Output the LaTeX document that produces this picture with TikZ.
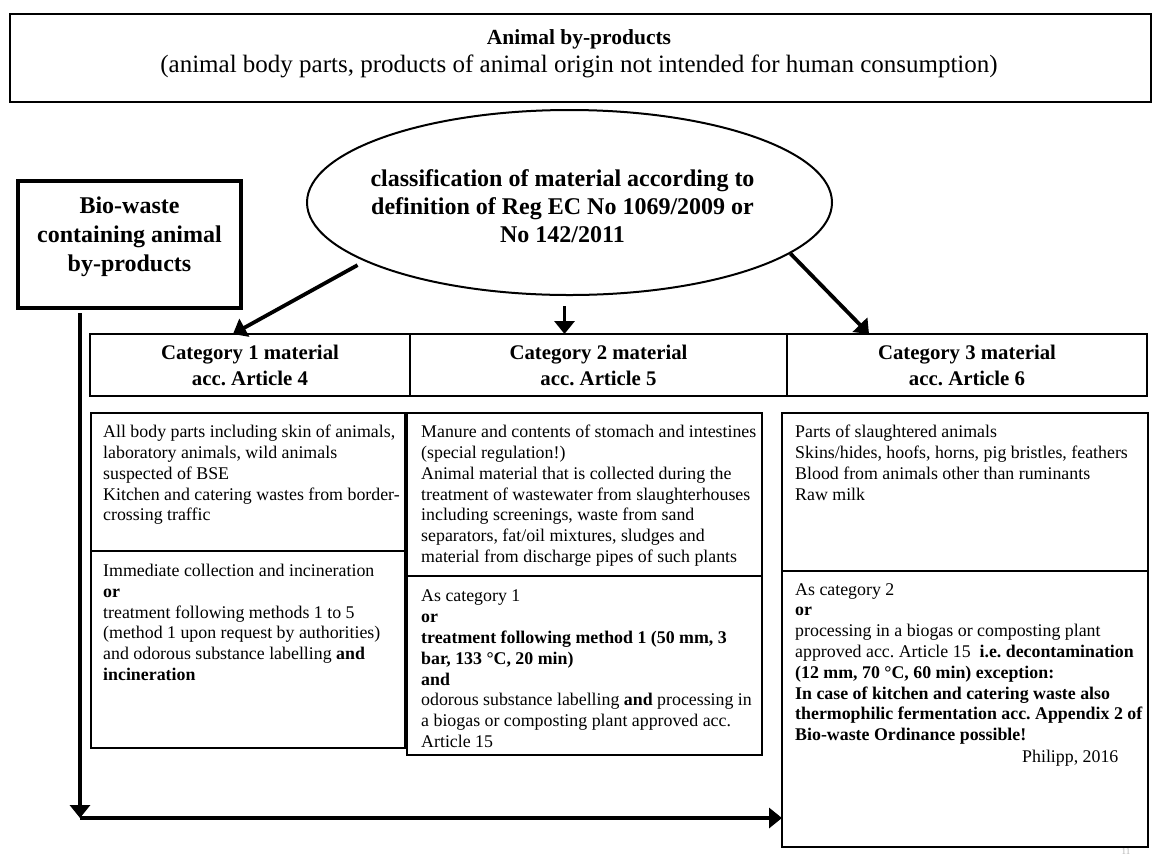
\documentclass[tikz,border=0pt]{standalone}
\usepackage{fontspec}
\setmainfont{Liberation Serif}
\usetikzlibrary{positioning,arrows.meta,shapes.geometric}
\frenchspacing

\begin{document}
\begin{tikzpicture}[
  x=1pt, y=-1pt,
  cell/.style={draw,line width=1.5pt,inner sep=0pt,outer sep=0pt,anchor=north west},
  head/.style={cell,align=center,minimum height=62pt,font=\fontsize{20.8}{26}\selectfont\bfseries},
  txt/.style={inner sep=0pt,align=left,font=\fontsize{17.85}{20.8}\selectfont},
  big/.style={inner sep=0pt,align=center,font=\fontsize{24}{29}\selectfont\bfseries},
  arr/.style={-{Triangle[length=13pt,width=20pt]},line width=3.8pt}
]
\useasboundingbox (0,0) rectangle (1158,855);

% title box
\node[cell,minimum width=1141pt,minimum height=88pt] (top) at (10,14) {};
\node[inner sep=0pt,font=\fontsize{21.5}{26}\selectfont\bfseries] (ttl) at (579,39) {Animal by-products};
\node[inner sep=0pt,font=\fontsize{25}{26}\selectfont,below=6pt of ttl] (sub) {(animal body parts, products of animal origin not intended for human consumption)};

% classification
\node[draw,ellipse,line width=2pt,inner sep=0pt,minimum width=525pt,minimum height=185pt] (cls) at (569.5,202.5) {};
\node[big,font=\fontsize{24}{28}\selectfont\bfseries] (clst) at ([xshift=-7pt,yshift=-4pt]cls.center) {classification of material according to\\definition of Reg EC No 1069/2009 or\\No 142/2011};

\node[draw,line width=4.5pt,inner sep=0pt,outer sep=0pt,minimum width=223pt,minimum height=127pt,anchor=north west] (bio) at (18,181) {};
\node[big] (biot) at ([yshift=7.5pt]bio.center) {Bio-waste\\containing animal\\by-products};

% categories
\node[head,minimum width=320pt] (h1) at (90,334) {Category 1 material\\acc. Article 4};
\node[head,minimum width=377pt,right=0pt of h1] (h2) {Category 2 material\\acc. Article 5};
\node[head,minimum width=360pt,right=0pt of h2] (h3) {Category 3 material\\acc. Article 6};

\node[cell,minimum width=314pt,minimum height=138pt] (c1a) at (91,413) {};
\node[cell,minimum width=314pt,minimum height=197pt,below=0pt of c1a] (c1b) {};
\node[cell,minimum width=355pt,minimum height=163pt] (c2a) at (407,413) {};
\node[cell,minimum width=355pt,minimum height=179pt,below=0pt of c2a] (c2b) {};
\node[cell,minimum width=366pt,minimum height=158pt] (c3a) at (782,413) {};
\node[cell,minimum width=366pt,minimum height=276pt,below=0pt of c3a] (c3b) {};

\node[txt,below right=12pt and 12pt of c1a.north west] (t1a) {All body parts including skin of animals,\\
laboratory animals, wild animals\\
suspected of BSE\\
Kitchen and catering wastes from border-\\
crossing traffic};
\node[txt,below right=13pt and 12pt of c1b.north west] (t1b) {Immediate collection and incineration\\
\textbf{or}\\
treatment following methods 1 to 5\\
(method 1 upon request by authorities)\\
and odorous substance labelling \textbf{and}\\
\textbf{incineration}};

\node[txt,below right=12pt and 14pt of c2a.north west] (t2a) {Manure and contents of stomach and intestines\\
(special regulation!)\\
Animal material that is collected during the\\
treatment of wastewater from slaughterhouses\\
including screenings, waste from sand\\
separators, fat/oil mixtures, sludges and\\
material from discharge pipes of such plants};
\node[txt,below right=14pt and 14pt of c2b.north west] (t2b) {As category 1\\
\textbf{or}\\
\textbf{treatment following method 1 (50 mm, 3}\\
\textbf{bar, 133 °C, 20 min)}\\
\textbf{and}\\
odorous substance labelling \textbf{and} processing in\\
a biogas or composting plant approved acc.\\
Article 15};

\node[txt,below right=12pt and 13pt of c3a.north west] (t3a) {Parts of slaughtered animals\\
Skins/hides, hoofs, horns, pig bristles, feathers\\
Blood from animals other than ruminants\\
Raw milk};
\node[txt,below right=12pt and 13pt of c3b.north west] (t3b) {As category 2\\
\textbf{or}\\
processing in a biogas or composting plant\\
approved acc. Article 15~ \textbf{i.e. decontamination}\\
\textbf{(12 mm, 70 °C, 60 min) exception:}\\
\textbf{In case of kitchen and catering waste also}\\
\textbf{thermophilic fermentation acc. Appendix 2 of}\\
\textbf{Bio-waste Ordinance possible!}\\[1pt]
\hspace*{227pt}Philipp, 2016};

\node[text=black!30,inner sep=0pt,anchor=north,font=\fontsize{9}{9}\selectfont] (pg) at (1126,848.5) {11};

% arrows
\coordinate (mid) at ([xshift=-5pt]cls.south);
\coordinate (turn) at (80,818);
\draw[arr,shorten <=8pt] (cls.196) -- ([xshift=-17pt]h1.north);
\draw[arr,shorten <=10pt] (mid) -- (mid |- h2.north);
\draw[arr] (cls.347) -- ([xshift=82pt]h3.north west);
\draw[arr,shorten <=5pt] (bio.south -| turn) -- (turn);
\draw[arr] (turn) -- (turn -| c3b.west);
\end{tikzpicture}
\end{document}
